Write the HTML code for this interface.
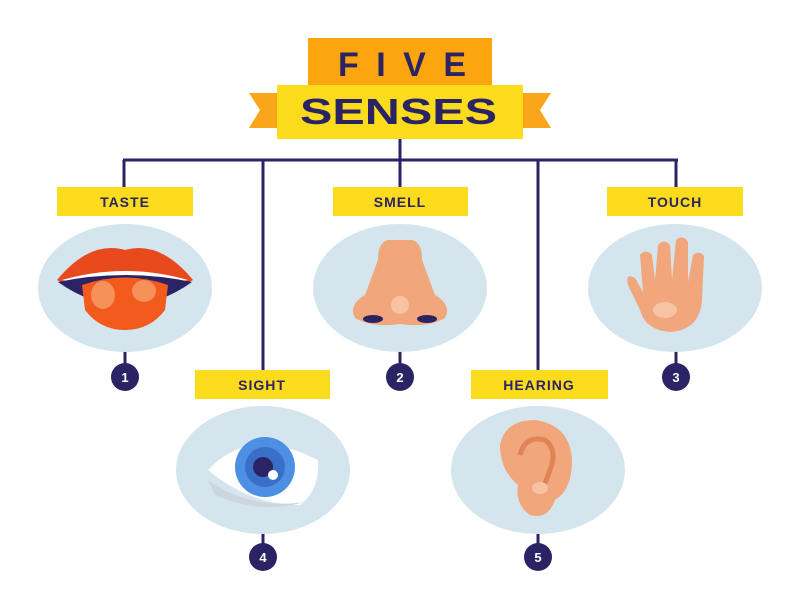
<!DOCTYPE html>
<html><head><style>
body{margin:0;background:#fff;}
svg{display:block;}
text{font-family:"Liberation Sans",sans-serif;font-weight:bold;fill:#2b2364;}
</style></head><body>
<svg width="800" height="600" viewBox="0 0 800 600">
<polygon points="249,93 277,93 277,128 249,128 260,110" fill="#f9a51a"/>
<polygon points="551,93 523,93 523,128 551,128 540,110" fill="#f9a51a"/>
<rect x="308" y="38" width="184" height="47" fill="#fda50f"/>
<rect x="277" y="85" width="246" height="54" fill="#fbdc1c"/>
<text x="338" y="76" font-size="34" textLength="128" lengthAdjust="spacing" style="font-weight:900">FIVE</text>
<text x="300" y="124" font-size="36" textLength="197" lengthAdjust="spacingAndGlyphs" style="font-weight:900">SENSES</text>
<g stroke="#2b2364" stroke-width="3" fill="none">
<line x1="400" y1="139" x2="400" y2="187"/>
<line x1="123" y1="160" x2="678" y2="160"/>
<line x1="124" y1="160" x2="124" y2="187"/>
<line x1="676" y1="160" x2="676" y2="187"/>
<line x1="263" y1="160" x2="263" y2="370"/>
<line x1="538" y1="160" x2="538" y2="370"/>
<line x1="125" y1="350" x2="125" y2="370"/>
<line x1="400" y1="350" x2="400" y2="370"/>
<line x1="676" y1="350" x2="676" y2="370"/>
<line x1="263" y1="532" x2="263" y2="550"/>
<line x1="538" y1="532" x2="538" y2="550"/>
</g>
<g fill="#fbdc1c">
<rect x="57" y="187" width="136" height="29"/>
<rect x="333" y="187" width="135" height="29"/>
<rect x="607" y="187" width="136" height="29"/>
<rect x="195" y="370" width="135" height="29"/>
<rect x="471" y="370" width="137" height="29"/>
</g>
<g font-size="14" text-anchor="middle" letter-spacing="1">
<text x="125" y="207">TASTE</text>
<text x="400" y="207">SMELL</text>
<text x="675" y="207">TOUCH</text>
<text x="262" y="390">SIGHT</text>
<text x="539" y="390">HEARING</text>
</g>
<g fill="#d4e5ee">
<ellipse cx="125" cy="288" rx="87" ry="64"/>
<ellipse cx="400" cy="288" rx="87" ry="64"/>
<ellipse cx="675" cy="288" rx="87" ry="64"/>
<ellipse cx="263" cy="470" rx="87" ry="64"/>
<ellipse cx="538" cy="470" rx="87" ry="64"/>
</g>
<path d="M57,280 Q90,240 125,250 Q160,240 193,280 Q160,300 125,300 Q90,300 57,280Z" fill="#e8491d"/>
<path d="M62,280 Q125,262 188,280 Q125,292 62,280Z" fill="#fff"/>
<path d="M58,282 Q125,268 192,282 Q160,305 125,305 Q90,305 58,282Z" fill="#2b2364"/>
<path d="M82,285 Q125,270 168,285 L165,310 Q150,330 125,330 Q100,330 85,310Z" fill="#f25a1e"/>
<ellipse cx="103" cy="295" rx="12" ry="14" fill="#f8905a"/>
<ellipse cx="144" cy="291" rx="12" ry="11" fill="#f8905a"/>
<path d="M388,240 Q378,242 378,260 L365,295 Q348,305 355,318 Q372,328 400,324 Q428,328 445,318 Q452,305 435,295 L422,260 Q422,242 412,240Z" fill="#f2a67c"/>
<ellipse cx="373" cy="319" rx="10" ry="4" fill="#2b2364"/>
<ellipse cx="427" cy="319" rx="10" ry="4" fill="#2b2364"/>
<circle cx="400" cy="305" r="9" fill="#f7c3a3"/>
<path d="M640,255 Q646,248 652,255 L655,280 L658,245 Q664,238 670,245 L672,280 L676,240 Q683,234 688,242 L688,282 L693,255 Q699,250 704,256 L702,300 Q700,330 670,332 Q645,330 640,310 L628,285 Q625,272 635,278 L643,292Z" fill="#f2a67c"/>
<ellipse cx="665" cy="310" rx="12" ry="8" fill="#f7c3a3"/>
<path d="M208,470 Q250,425 318,460 Q320,490 300,505 Q250,505 208,470Z" fill="#fff"/>
<path d="M208,480 Q250,510 305,502 Q260,515 215,495Z" fill="#cdd6dd"/>
<circle cx="265" cy="467" r="30" fill="#4d8fe3"/>
<circle cx="265" cy="467" r="20" fill="#3a6fc8"/>
<circle cx="263" cy="467" r="10" fill="#2b2364"/>
<circle cx="273" cy="475" r="5" fill="#fff"/>
<path d="M500,445 Q505,420 535,420 Q570,425 572,460 Q572,490 555,500 Q548,520 530,515 Q515,505 518,485 Q500,470 500,445Z" fill="#f2a67c"/>
<path d="M520,455 Q525,435 545,440 Q558,450 550,470 Q545,485 540,492" stroke="#e08457" stroke-width="5" fill="none"/>
<ellipse cx="540" cy="488" rx="8" ry="6" fill="#f7c3a3"/>
<g fill="#2b2364">
<circle cx="125" cy="377" r="14"/>
<circle cx="400" cy="377" r="14"/>
<circle cx="676" cy="377" r="14"/>
<circle cx="263" cy="557" r="14"/>
<circle cx="538" cy="557" r="14"/>
</g>
<g font-size="13" text-anchor="middle">
<text x="125" y="382" style="fill:#fff">1</text>
<text x="400" y="382" style="fill:#fff">2</text>
<text x="676" y="382" style="fill:#fff">3</text>
<text x="263" y="562" style="fill:#fff">4</text>
<text x="538" y="562" style="fill:#fff">5</text>
</g>
</svg>
</body></html>
